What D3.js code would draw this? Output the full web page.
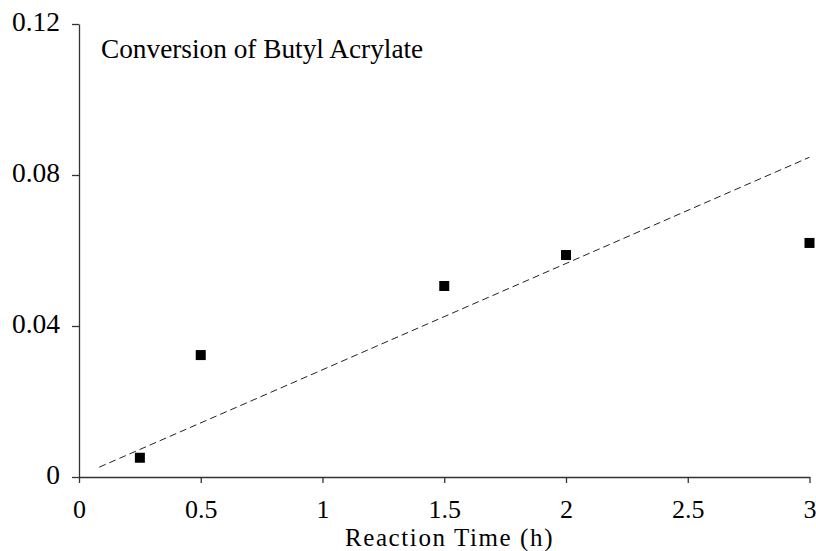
<!DOCTYPE html>
<html><head><meta charset="utf-8">
<script src="https://cdn.jsdelivr.net/npm/d3@7"></script>
<style>body{margin:0;background:#fff}svg{display:block}</style>
</head><body><svg id="c" width="816" height="551"></svg>
<script>
const times = [0.25, 0.5, 1.5, 2, 3];
const conversion = [0.0051, 0.0323, 0.0506, 0.0588, 0.062];
const fitX = [0.083, 3];
const fitY = [0.0026, 0.0847];
const xTicks = [0, 0.5, 1, 1.5, 2, 2.5, 3];
const xTickLabels = ["0", "0.5", "1", "1.5", "2", "2.5", "3"];
const yTicks = [0, 0.04, 0.08, 0.12];
const yTickLabels = ["0", "0.04", "0.08", "0.12"];
const title = "Conversion of Butyl Acrylate";
const xTitle = "Reaction Time (h)";

const FONT = "'Liberation Serif'";
const svg = d3.select("#c");
const x = d3.scaleLinear().domain([0, 3]).range([79, 809.5]);
const y = d3.scaleLinear().domain([0, 0.12]).range([477, 24]);

const xAxis = d3.axisBottom(x).tickValues(xTicks).tickFormat((d,i)=>xTickLabels[i]).tickSize(6).tickSizeOuter(0);
const gx = svg.append("g").attr("transform","translate(0,477)").call(xAxis);
gx.attr("font-family", null);
gx.selectAll("path,line").attr("stroke","#333").attr("stroke-width",1.3);
gx.selectAll("text").style("font-family", FONT).style("font-size","26px").attr("fill","#000")
  .attr("y", 40.5).attr("dy", null);

const yAxis = d3.axisLeft(y).tickValues(yTicks).tickFormat((d,i)=>yTickLabels[i]).tickSize(7).tickSizeOuter(0);
const gy = svg.append("g").attr("transform","translate(79,0)").call(yAxis);
gy.attr("font-family", null);
gy.selectAll("path,line").attr("stroke","#333").attr("stroke-width",1.3);
gy.selectAll("text").style("font-family", FONT).style("font-size","27.5px").attr("fill","#000")
  .attr("x", -19).attr("dy", "0.22em");

svg.append("line")
  .attr("x1", x(fitX[0])).attr("y1", y(fitY[0]))
  .attr("x2", x(fitX[1])).attr("y2", y(fitY[1]))
  .attr("stroke","#222").attr("stroke-width",1).attr("stroke-dasharray","7,4");

svg.selectAll("rect.pt").data(times).enter().append("rect")
  .attr("class","pt")
  .attr("x", d=>x(d)-5).attr("y", (d,i)=>y(conversion[i])-5)
  .attr("width",10).attr("height",10).attr("fill","#000");

svg.append("text").attr("x",101).attr("y",58).style("font-family", FONT).style("font-size","27.3px").text(title);
svg.append("text").attr("x",449.5).attr("y",546).attr("text-anchor","middle").style("font-family", FONT).style("font-size","25px").style("letter-spacing","1.6px").text(xTitle);
</script></body></html>
